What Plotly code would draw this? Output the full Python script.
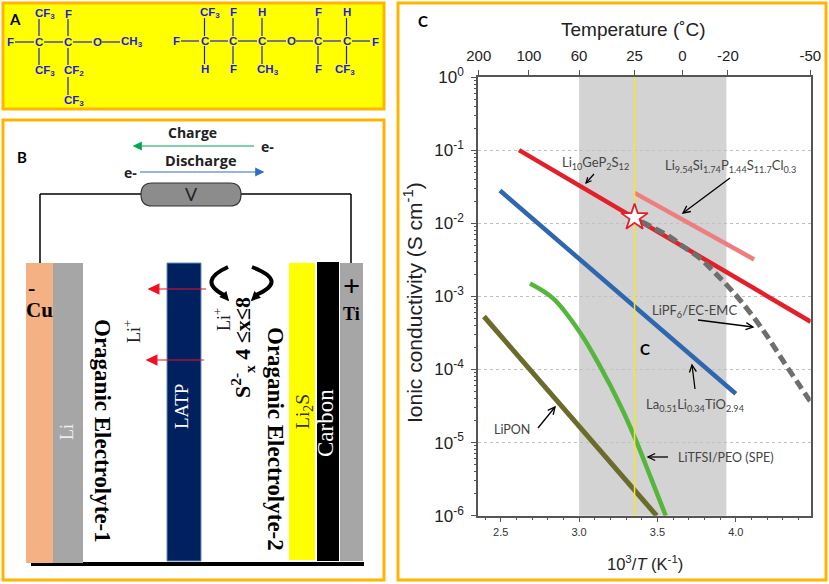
import numpy as np
import plotly.graph_objects as go

W, H = 829, 584

# panel C values (x is 1000/T, y is S/cm)
lgps_x = [2.617, 4.478]
lgps_y = [1e-1, 4.5e-4]
lspsc_x = [3.354, 4.117]
lspsc_y = [2.6e-2, 3.2e-3]
llto_x = [2.495, 4.0]
llto_y = [2.8e-2, 4.65e-5]
lipon_x = [2.393, 3.495]
lipon_y = [5.3e-4, 1e-6]
spe_x = [2.687, 2.836, 3.006, 3.134, 3.261, 3.357, 3.453, 3.553]
spe_y = [1.5e-3, 9.3e-4, 3.2e-4, 1.1e-4, 3.3e-5, 1.15e-5, 3.5e-6, 1e-6]
liquid_x = [3.40, 3.58, 3.665, 3.772, 3.857, 3.921, 4.027, 4.176, 4.303, 4.41, 4.478]
liquid_y = [1.05e-2, 6.5e-3, 4.8e-3, 3.3e-3, 2.2e-3, 1.6e-3, 8.9e-4, 3.4e-4, 1.3e-4, 5.9e-5, 3.6e-5]
star_x = [3.354]
star_y = [1.2e-2]
room_x = [3.354, 3.354]
room_y = [1e-6, 1]

top_ticks = [2.36, 2.68, 3.0, 3.354, 3.66, 3.95, 4.475]
top_labels = ["200", "100", "60", "25", "0", "-20", "-50"]
bottom_ticks = [2.5, 3.0, 3.5, 4.0]
y_ticks = [1e-6, 1e-5, 1e-4, 1e-3, 1e-2, 1e-1, 1]
y_labels = ["10<sup>-6</sup>", "10<sup>-5</sup>", "10<sup>-4</sup>", "10<sup>-3</sup>",
            "10<sup>-2</sup>", "10<sup>-1</sup>", "10<sup>0</sup>"]
y_minor = [m * d for d in y_ticks[:-1] for m in range(2, 10)]

AXIS = "#555555"
FRAME = "#ffb400"
BLUE_TXT = "#1c1ce0"
SANS = "Liberation Sans"
SERIF = "Liberation Serif"
LABEL = "Lato"

shapes = []
notes = []


def X(v):
    return v / W


def Y(v):
    return 1 - v / H


def rect(x0, y0, x1, y1, fill, line="rgba(0,0,0,0)", width=0, layer="below"):
    shapes.append(dict(type="rect", xref="paper", yref="paper", x0=X(x0), x1=X(x1), y0=Y(y0), y1=Y(y1),
                       fillcolor=fill, line=dict(color=line, width=width), layer=layer))


def seg(x0, y0, x1, y1, color="black", width=1.2):
    shapes.append(dict(type="line", xref="paper", yref="paper", x0=X(x0), x1=X(x1), y0=Y(y0), y1=Y(y1),
                       line=dict(color=color, width=width), layer="above"))


def text(x, y, s, size=11, color="black", family=SANS, bold=False, angle=0):
    if bold:
        s = f"<b>{s}</b>"
    notes.append(dict(x=X(x), y=Y(y), xref="paper", yref="paper", text=s, showarrow=False, textangle=angle,
                      xanchor="center", yanchor="middle", font=dict(size=size, color=color, family=family)))


def arrow(x0, y0, x1, y1, color="black", width=1.2, head=6, solid=False):
    # small arrow with an open or filled head
    ang = np.arctan2(y1 - y0, x1 - x0)
    hx0 = x1 - head * np.cos(ang - 0.45)
    hy0 = y1 - head * np.sin(ang - 0.45)
    hx1 = x1 - head * np.cos(ang + 0.45)
    hy1 = y1 - head * np.sin(ang + 0.45)
    seg(x0, y0, x1, y1, color, width)
    path = f"M {X(hx0)} {Y(hy0)} L {X(x1)} {Y(y1)} L {X(hx1)} {Y(hy1)}"
    if solid:
        path += " Z"
    shapes.append(dict(type="path", xref="paper", yref="paper", path=path, layer="above",
                       fillcolor=color if solid else "rgba(0,0,0,0)", line=dict(color=color, width=width)))


def curve(x0, y0, cx, cy, x1, y1):
    shapes.append(dict(type="path", xref="paper", yref="paper", layer="above",
                       path=f"M {X(x0)} {Y(y0)} Q {X(cx)} {Y(cy)} {X(x1)} {Y(y1)}",
                       fillcolor="rgba(0,0,0,0)", line=dict(color="black", width=4)))


# frames
rect(3, 3, 384, 109, "#ffff00", FRAME, 3)
rect(3, 120, 384, 580, "white", FRAME, 3)
rect(398, 3, 826, 580, "white", FRAME, 3)

# panel A, first molecule
text(15, 19, "A", 15, bold=True, family="Lato")
for x, y, s in [(10, 42, "F"), (39, 42, "C"), (68, 42, "C"), (97, 42, "O"), (132, 42, "CH<sub>3</sub>"),
                (45, 14, "CF<sub>3</sub>"), (68, 14, "F"), (45, 71, "CF<sub>3</sub>"), (74, 71, "CF<sub>2</sub>"),
                (74, 101, "CF<sub>3</sub>")]:
    text(x, y, s, 11.5, BLUE_TXT, bold=True)
for x0, x1 in [(15, 34), (44, 63), (73, 92), (102, 120)]:
    seg(x0, 42, x1, 42, BLUE_TXT)
for x, y0, y1 in [(39, 19, 36), (39, 48, 65), (68, 19, 36), (68, 48, 65), (68, 77, 95)]:
    seg(x, y0, x, y1, BLUE_TXT)

# panel A, second molecule
for x, y, s in [(176, 41, "F"), (204.5, 41, "C"), (233, 41, "C"), (262, 41, "C"), (291, 41, "O"), (318, 41, "C"),
                (346.5, 41, "C"), (375, 42, "F"), (210, 13, "CF<sub>3</sub>"), (233, 12, "F"), (262, 12, "H"),
                (318, 12, "F"), (347, 12, "H"), (204.5, 69, "H"), (233, 69, "F"), (268, 70, "CH<sub>3</sub>"),
                (318, 69, "F"), (345, 70, "CF<sub>3</sub>")]:
    text(x, y, s, 11.5, BLUE_TXT, bold=True)
for x0, x1 in [(181, 199), (210, 228), (238, 257), (267, 286), (296, 313), (323, 341), (352, 370)]:
    seg(x0, 41, x1, 41, BLUE_TXT)
for x in [204.5, 233, 262, 318, 346.5]:
    seg(x, 18, x, 36, BLUE_TXT)
    seg(x, 46, x, 64, BLUE_TXT)

# panel B, cell
rect(31, 562, 364, 566, "black")
rect(26, 263, 53, 563, "#f4b183")
rect(53, 263, 83, 563, "#a6a6a6")
rect(167, 263, 201, 561, "#002060", "#5f8fb5", 1)
rect(289, 263, 315, 560, "#ffff00")
rect(317, 262, 339, 561, "black")
rect(340, 263, 363, 561, "#a6a6a6")

# panel B, circuit
seg(40, 194, 141, 194, width=1.5)
seg(241, 194, 351, 194, width=1.5)
seg(40, 194, 40, 263, width=1.5)
seg(351, 194, 351, 263, width=1.5)
shapes.append(dict(type="path", xref="paper", yref="paper", layer="above",
                   path=(f"M {X(152)} {Y(183)} L {X(230)} {Y(183)} Q {X(241)} {Y(183)} {X(241)} {Y(194.5)} "
                         f"Q {X(241)} {Y(206)} {X(230)} {Y(206)} L {X(152)} {Y(206)} "
                         f"Q {X(141)} {Y(206)} {X(141)} {Y(194.5)} Q {X(141)} {Y(183)} {X(152)} {Y(183)} Z"),
                   fillcolor="#8c8c8c", line=dict(color="#333333", width=1.2)))
text(191, 194, "V", 18, "#222222", family="Lato")

text(192, 133, "Charge", 14, "#222222", family="Open Sans", bold=True)
text(200, 161, "Discharge", 14.5, "#222222", family="Open Sans", bold=True)
text(267, 146, "e-", 14, "#222222", family="Open Sans", bold=True)
text(130, 172, "e-", 14, "#222222", family="Open Sans", bold=True)
arrow(254, 146, 134, 146, "#00a650", 1.2, 8, True)
arrow(140, 172, 263, 172, "#2e6fbf", 1.2, 8, True)
text(22, 157, "B", 15, bold=True, family="Lato")

# panel B, labels
text(32, 287, "-", 22, family=SERIF, bold=True)
text(39, 310, "Cu", 21, family=SERIF, bold=True)
text(351, 285, "+", 30, family=SERIF, bold=True)
text(351, 314, "Ti", 18, family=SERIF, bold=True)
text(67, 432, "Li", 18, "#eeeeee", SERIF, angle=-90)
text(181, 407, "LATP", 19, "white", SERIF, angle=-90)
text(304, 412, "Li<sub>2</sub>S", 19.5, "#333300", SERIF, angle=-90)
text(325, 423, "Carbon", 23, "white", SERIF, angle=-90)
text(132, 332, "Li<sup>+</sup>", 18, "#222222", SERIF, angle=-90)
text(222, 320, "Li<sup>+</sup>", 18, "#222222", SERIF, angle=-90)
text(103, 431, "Oraganic Electrolyte-1", 23, family=SERIF, bold=True, angle=90)
text(276, 439, "Oraganic Electrolyte-2", 23, family=SERIF, bold=True, angle=90)
text(242, 348, "S<sup>2-</sup><sub>x</sub> 4 ≤x≤8", 22, family=SERIF, bold=True, angle=-90)

arrow(206, 289, 149, 289, "#f01020", 1.2, 11, True)
arrow(204, 360, 147, 360, "#f01020", 1.2, 11, True)
curve(228, 267, 197, 281, 224, 295)
arrow(222, 293, 228, 300, "black", 1.5, 8, True)
curve(252, 267, 289, 281, 256, 295)
arrow(258, 294, 252, 300, "black", 1.5, 8, True)

# panel C, texts
text(423, 21, "C", 15, bold=True, family="Lato")
text(645, 349, "C", 15, bold=True, family="Lato")
text(633, 30, "Temperature (˚C)", 19, "#222222")
text(413, 303, "Ionic conductivity (S cm<sup>-1</sup>)", 21, "#222222", angle=-90)
text(645, 563, "10<sup>3</sup>/<i>T</i> (K<sup>-1</sup>)", 16.5, "#222222")

text(595, 163, "Li<sub>10</sub>GeP<sub>2</sub>S<sub>12</sub>", 13, "#444444", LABEL)
arrow(594, 174, 586, 183)
text(730, 166, "Li<sub>9.54</sub>Si<sub>1.74</sub>P<sub>1.44</sub>S<sub>11.7</sub>Cl<sub>0.3</sub>", 13, "#444444", LABEL)
arrow(730, 178, 683, 213, width=1.3, head=8)
text(694, 311, "LiPF<sub>6</sub>/EC-EMC", 13, "#444444", LABEL)
arrow(698, 320, 753, 327, width=1.3, head=8)
text(695, 405, "La<sub>0.51</sub>Li<sub>0.34</sub>TiO<sub>2.94</sub>", 13, "#444444", LABEL)
arrow(695, 389, 692, 365, width=1.3, head=8)
text(512, 429, "LiPON", 12.5, "#444444", LABEL)
arrow(538, 428, 555, 407, width=1.3, head=8)
text(725, 457, "LiTFSI/PEO (SPE)", 12.5, "#444444", LABEL)
arrow(668, 457, 648, 457, width=1.3, head=8)

# shaded temperature band, see-through so the dotted grid stays visible
shapes.append(dict(type="rect", xref="x", yref="y domain", x0=3.0, x1=3.94, y0=0, y1=1,
                   fillcolor="rgba(128,128,128,0.35)", line=dict(width=0), layer="below"))

fig = go.Figure()

fig.add_trace(go.Scatter(x=lipon_x, y=lipon_y, mode="lines", line=dict(color="#6b6b2c", width=5)))
fig.add_trace(go.Scatter(x=spe_x, y=spe_y, mode="lines", line=dict(color="#55b63c", width=4.5, shape="spline")))
fig.add_trace(go.Scatter(x=llto_x, y=llto_y, mode="lines", line=dict(color="#2e66b0", width=4.5)))
fig.add_trace(go.Scatter(x=lgps_x, y=lgps_y, mode="lines", line=dict(color="#e3202a", width=4.5)))
fig.add_trace(go.Scatter(x=lspsc_x, y=lspsc_y, mode="lines", line=dict(color="#ee7d80", width=4.5)))
fig.add_trace(go.Scatter(x=liquid_x, y=liquid_y, mode="lines",
                         line=dict(color="#6e6e6e", width=5, dash="10px,5px", shape="spline")))
# x2 is drawn over x, so the yellow line and then the star sit on top of the curves
fig.add_trace(go.Scatter(x=room_x, y=room_y, xaxis="x2", mode="lines", line=dict(color="#f7e62a", width=1.5)))
fig.add_trace(go.Scatter(x=star_x, y=star_y, xaxis="x2", mode="markers",
                         marker=dict(symbol="star", size=20, color="white", line=dict(color="#e3202a", width=1.8))))

x_range = [2.355, 4.478]
fig.update_layout(
    width=W, height=H, autosize=False, showlegend=False,
    margin=dict(l=0, r=0, t=0, b=0, autoexpand=False),
    paper_bgcolor="white", plot_bgcolor="rgba(0,0,0,0)",
    shapes=shapes, annotations=notes,
    xaxis=dict(domain=[X(478), X(810.7)], range=x_range, tickvals=bottom_ticks, ticktext=["2.5", "3.0", "3.5", "4.0"],
               ticks="outside", ticklen=5, tickcolor=AXIS, showline=True, linecolor=AXIS, linewidth=1.5,
               showgrid=False, zeroline=False, tickfont=dict(size=11, color="#333333", family=SANS),
               minor=dict(ticks="outside", ticklen=3, dtick=0.1, tick0=2.4, tickcolor=AXIS)),
    xaxis2=dict(overlaying="x", side="top", anchor="y", range=x_range, tickvals=top_ticks, ticktext=top_labels,
                ticks="outside", ticklen=5, tickcolor=AXIS, showline=True, linecolor=AXIS, linewidth=1.5,
                showgrid=False, zeroline=False, ticklabelstandoff=3,
                tickfont=dict(size=15, color="#222222", family=SANS)),
    yaxis=dict(domain=[Y(515.7), Y(77)], type="log", range=[-6, 0], tickvals=y_ticks, ticktext=y_labels,
               ticks="outside", ticklen=5, tickcolor=AXIS, showline=True, mirror=True, linecolor=AXIS, linewidth=1.5,
               showgrid=True, gridcolor="#c0c0c0", griddash="dot", gridwidth=1, zeroline=False,
               ticklabelstandoff=4, tickfont=dict(size=17, color="#222222", family=SANS),
               minor=dict(ticks="outside", ticklen=2.5, tickvals=y_minor, tickcolor=AXIS, showgrid=False)),
)

# the page's default 8px body margin would push the figure out of the window
fig.write_html("out.html", config={"displayModeBar": False}, post_script="document.body.style.margin='0';")
